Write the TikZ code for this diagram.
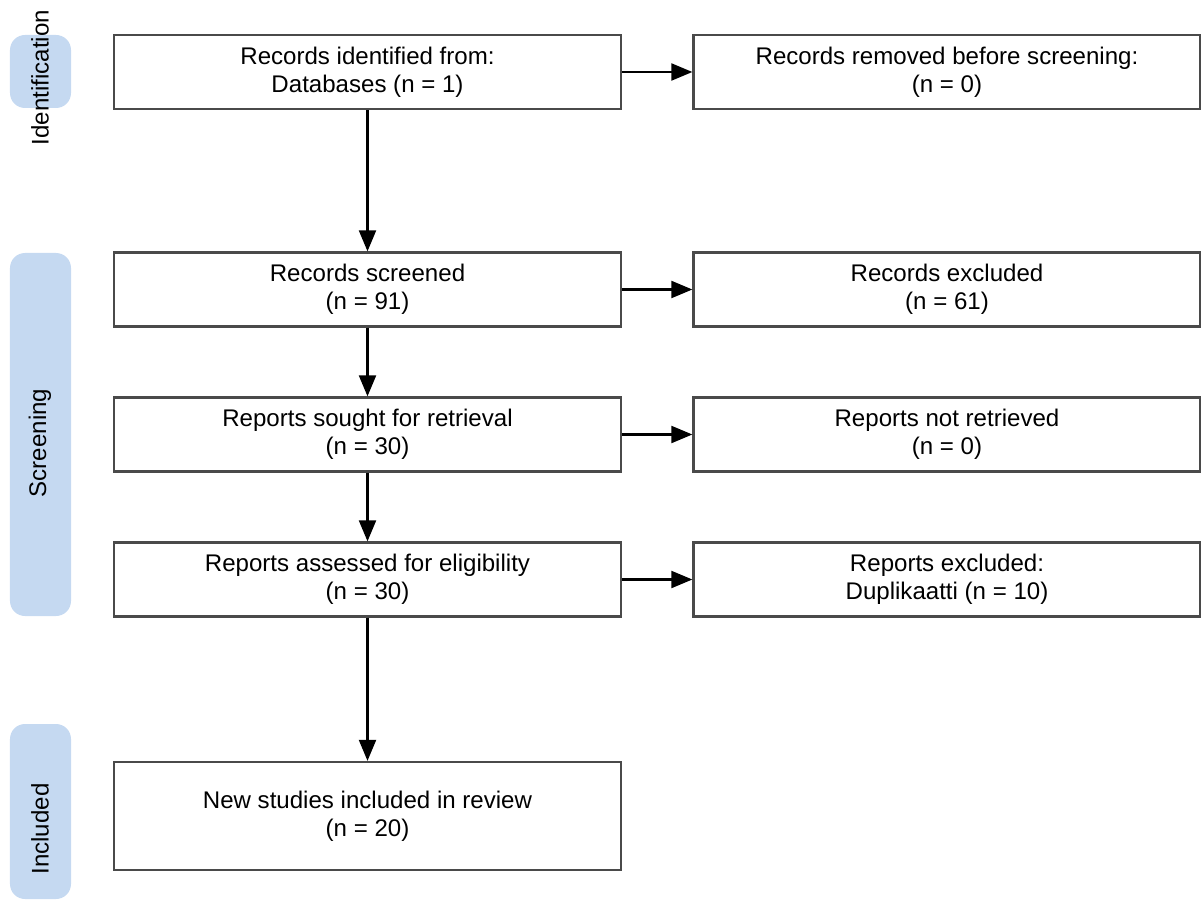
\documentclass[tikz,border=0pt]{standalone}
\usepackage{fontspec}
\setmainfont{Liberation Sans}
\usepackage{xcolor}
\definecolor{phasefill}{HTML}{C5D9F1}
\definecolor{boxline}{HTML}{4A4A4A}
\usetikzlibrary{arrows.meta}

\begin{document}
\begin{tikzpicture}[
    box/.style={rectangle,draw=boxline,line width=1.3pt,fill=white,
      minimum width=10.14cm,minimum height=1.48cm,align=center,
      inner sep=0pt,font=\fontsize{13.7}{15.9}\selectfont},
    phase/.style={fill=phasefill,rounded corners=0.3cm},
    phaselabel/.style={rotate=90,inner sep=0pt,
      font=\fontsize{13.7}{15.9}\selectfont},
    flow/.style={line width=1.2pt,-{Triangle[length=0.42cm,width=0.34cm]}}]
    \useasboundingbox (0,0) rectangle (24.02,-18.02);
    \path[phase] (0.2,-0.7) rectangle (1.42,-2.16);
    \path[phase] (0.2,-5.06) rectangle (1.42,-12.32);
    \path[phase] (0.2,-14.48) rectangle (1.42,-17.98);
    \node[phaselabel] (identlbl) at (0.8,-1.55) {Identification};
    \node[phaselabel] (screenlbl) at (0.8,-8.86) {Screening};
    \node[phaselabel] (incllbl) at (0.8,-16.58) {Included};

    \node[box] (ident) at (7.35,-1.44) {Records identified from:\\Databases (n = 1)};
    \node[box] (removed) at (18.94,-1.44) {Records removed before screening:\\(n = 0)};
    \node[box] (screened) at (7.35,-5.79) {Records screened\\(n = 91)};
    \node[box] (excluded) at (18.94,-5.79) {Records excluded\\(n = 61)};
    \node[box] (sought) at (7.35,-8.69) {Reports sought for retrieval\\(n = 30)};
    \node[box] (notretr) at (18.94,-8.69) {Reports not retrieved\\(n = 0)};
    \node[box] (assessed) at (7.35,-11.59) {Reports assessed for eligibility\\(n = 30)};
    \node[box] (reportsexcl) at (18.94,-11.59) {Reports excluded:\\Duplikaatti (n = 10)};
    \node[box,minimum height=2.16cm] (included) at (7.35,-16.32) {New studies included in review\\(n = 20)};

    \draw[flow] (ident) -- (removed);
    \draw[flow] (screened) -- (excluded);
    \draw[flow] (sought) -- (notretr);
    \draw[flow] (assessed) -- (reportsexcl);
    \draw[flow] (ident) -- (screened);
    \draw[flow] (screened) -- (sought);
    \draw[flow] (sought) -- (assessed);
    \draw[flow] (assessed) -- (included);
\end{tikzpicture}
\end{document}
